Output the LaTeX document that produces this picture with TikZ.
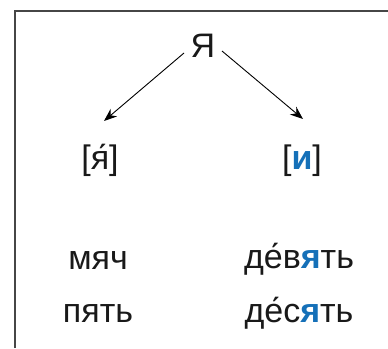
\documentclass[tikz,border=0pt]{standalone}
\usepackage{fontspec}
\setmainfont{Liberation Sans}
\usetikzlibrary{arrows.meta}
\definecolor{accentblue}{RGB}{21,112,184}
\definecolor{framegray}{RGB}{70,70,70}
\tikzset{
  word/.style={anchor=base, inner sep=0pt, font=\fontsize{34}{40}\selectfont, text=black!90},
  arr/.style={-{Stealth[length=13pt,width=10pt]}, line width=0.9pt}
}
\newcommand{\bl}[1]{\textcolor{accentblue}{\textbf{#1}}}
\begin{document}
\begin{tikzpicture}[x=1pt,y=-1pt]
\useasboundingbox (0,0) rectangle (388,348);
\draw[framegray, line width=1.6pt] (15,348) -- (15,11) -- (388,11);
\node[word] (top) at (203,57) {Я};
\node[word] (left) at (100,169) {[я́]};
\node[word] (right) at (302,169) {[\bl{и}]};
\node[word] (w1) at (98,269) {мяч};
\node[word] (w2) at (98,322) {пять};
\node[word] (w3) at (299,268) {де́в\bl{я}ть};
\node[word] (w4) at (299,322) {де́с\bl{я}ть};
\coordinate (tl) at (184,53);
\coordinate (tr) at (222,51);
\coordinate (el) at (104,121);
\coordinate (er) at (303,119);
\draw[arr] (tl) -- (el);
\draw[arr] (tr) -- (er);
\end{tikzpicture}
\end{document}
